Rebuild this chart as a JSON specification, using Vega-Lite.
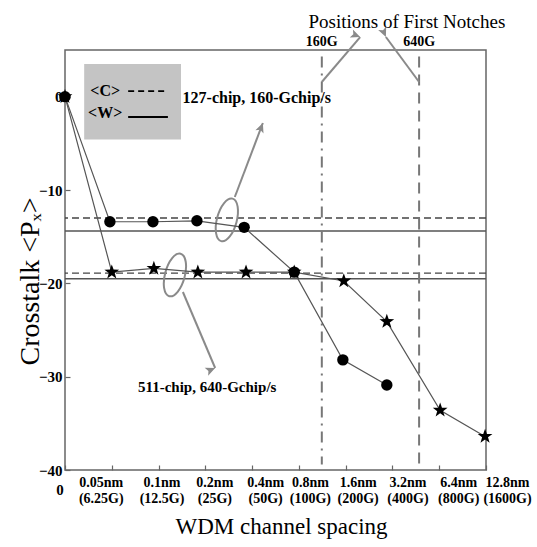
{
  "$schema": "https://vega.github.io/schema/vega-lite/v6.json",
  "width": 421,
  "height": 420,
  "autosize": "none",
  "padding": {"left": 65, "top": 50, "right": 51, "bottom": 77},
  "background": "white",
  "config": {
    "view": {"stroke": "#666666", "strokeWidth": 1.5},
    "font": "Liberation Serif",
    "axis": {"domain": false, "grid": false, "tickColor": "#666666", "tickWidth": 1.2, "labelFont": "Liberation Serif", "labelFontWeight": "bold", "labelColor": "black", "labelOverlap": false, "labelBound": false, "titleFont": "Liberation Serif", "titleFontWeight": "normal", "titleColor": "black"}
  },
  "datasets": {
    "series": [
      {"s": "127-chip", "x": 0, "y": 0},
      {"s": "127-chip", "x": 0.96, "y": -13.4},
      {"s": "127-chip", "x": 1.88, "y": -13.4},
      {"s": "127-chip", "x": 2.82, "y": -13.3},
      {"s": "127-chip", "x": 3.83, "y": -14.0},
      {"s": "127-chip", "x": 4.9, "y": -18.8},
      {"s": "127-chip", "x": 5.94, "y": -28.2},
      {"s": "127-chip", "x": 6.88, "y": -30.9},
      {"s": "511-chip", "x": 0, "y": 0},
      {"s": "511-chip", "x": 1.0, "y": -18.8},
      {"s": "511-chip", "x": 1.9, "y": -18.4},
      {"s": "511-chip", "x": 2.84, "y": -18.8},
      {"s": "511-chip", "x": 3.87, "y": -18.8},
      {"s": "511-chip", "x": 4.9, "y": -18.8},
      {"s": "511-chip", "x": 5.96, "y": -19.75},
      {"s": "511-chip", "x": 6.88, "y": -24.1},
      {"s": "511-chip", "x": 8.02, "y": -33.6},
      {"s": "511-chip", "x": 8.98, "y": -36.4}
    ],
    "levels": [
      {"s": "127-chip", "k": "C", "y": -13.0},
      {"s": "127-chip", "k": "W", "y": -14.4},
      {"s": "511-chip", "k": "C", "y": -18.9},
      {"s": "511-chip", "k": "W", "y": -19.5}
    ],
    "notches": [
      {"label": "160G", "x": 5.49},
      {"label": "640G", "x": 7.57}
    ],
    "arrows": [
      {"id": "a", "x": 3.63, "y": -10.75, "x2": 4.23, "y2": -2.82},
      {"id": "b", "x": 2.52, "y": -20.93, "x2": 3.21, "y2": -29.07},
      {"id": "c", "x": 5.49, "y": 1.57, "x2": 6.31, "y2": 6.39},
      {"id": "d", "x": 7.57, "y": 1.57, "x2": 6.86, "y2": 6.39}
    ],
    "ellipses": [
      {"s": "127-chip", "x": 3.46, "y": -13.2},
      {"s": "511-chip", "x": 2.35, "y": -19.1}
    ],
    "legendbox": [{"x": 0.41, "x2": 2.48, "y": 3.5, "y2": -4.6}],
    "legendkeys": [
      {"k": "C", "label": "<C>", "tx": 0.86, "ty": 0.6, "x": 1.35, "x2": 2.2, "y": 0.6},
      {"k": "W", "label": "<W>", "tx": 0.86, "ty": -1.75, "x": 1.35, "x2": 2.2, "y": -2.18}
    ],
    "notes": [
      {"label": "127-chip, 160-Gchip/s", "x": 4.1, "y": -0.14, "grp": "big"},
      {"label": "511-chip, 640-Gchip/s", "x": 3.04, "y": -31.1, "grp": "small"},
      {"label": "Positions of First Notches", "x": 7.31, "y": 8.0, "grp": "title"}
    ],
    "zero": [{"label": "0", "x": 0, "y": -40}]
  },
  "layer": [
    {
      "data": {"name": "legendbox"},
      "mark": {"type": "rect", "fill": "#c4c4c4"},
      "encoding": {
        "x": {"field": "x", "type": "quantitative",
          "scale": {"domain": [0, 9], "nice": false, "zero": false},
          "axis": {"values": [0, 1, 2, 3, 4, 5, 6, 7, 8, 9], "tickSize": -5, "labelPadding": 17, "labelFontSize": 14, "labelLineHeight": 16, "labelBaseline": "middle", "labelFlush": false,
            "labelOffset": {"condition": [
              {"test": "datum.value === 1", "value": -11},
              {"test": "datum.value === 2", "value": 3},
              {"test": "datum.value === 3", "value": 9},
              {"test": "datum.value === 4", "value": 13},
              {"test": "datum.value === 5", "value": 11},
              {"test": "datum.value === 6", "value": 12},
              {"test": "datum.value === 7", "value": 15},
              {"test": "datum.value === 8", "value": 19},
              {"test": "datum.value === 9", "value": 21}
            ], "value": 0},
            "labelExpr": "[[''],['0.05nm','(6.25G)'],['0.1nm','(12.5G)'],['0.2nm','(25G)'],['0.4nm','(50G)'],['0.8nm','(100G)'],['1.6nm','(200G)'],['3.2nm','(400G)'],['6.4nm','(800G)'],['12.8nm','(1600G)']][datum.value]",
            "title": "WDM channel spacing", "titleFontSize": 23, "titleX": 216, "titleY": 56, "titleBaseline": "middle"}},
        "x2": {"field": "x2"},
        "y": {"field": "y", "type": "quantitative",
          "scale": {"domain": [-40, 5], "nice": false, "zero": false},
          "axis": {"values": [0, -10, -20, -30, -40], "tickSize": -5, "labelPadding": 8, "labelFontSize": 15,
            "title": "Crosstalk <Pₓ>", "titleFontSize": 28, "titleX": -35, "titleY": 231, "titleAngle": 270, "titleBaseline": "middle", "titleAlign": "center"}},
        "y2": {"field": "y2"}
      }
    },
    {
      "data": {"name": "levels"},
      "transform": [{"filter": "datum.k === 'C'"}],
      "mark": {"type": "rule", "color": "#444444", "strokeWidth": 1.3, "strokeDash": [7, 4]},
      "encoding": {"y": {"field": "y", "type": "quantitative"}}
    },
    {
      "data": {"name": "levels"},
      "transform": [{"filter": "datum.k === 'W'"}],
      "mark": {"type": "rule", "color": "#555555", "strokeWidth": 1.5},
      "encoding": {"y": {"field": "y", "type": "quantitative"}}
    },
    {
      "data": {"name": "notches"},
      "transform": [{"filter": "datum.label === '160G'"}],
      "mark": {"type": "rule", "color": "#777777", "strokeWidth": 2, "strokeDash": [11, 6, 2, 6]},
      "encoding": {
        "x": {"field": "x", "type": "quantitative"},
        "y": {"datum": 4.3, "type": "quantitative"},
        "y2": {"datum": -39.4}
      }
    },
    {
      "data": {"name": "notches"},
      "transform": [{"filter": "datum.label === '640G'"}],
      "mark": {"type": "rule", "color": "#777777", "strokeWidth": 2, "strokeDash": [11, 7]},
      "encoding": {
        "x": {"field": "x", "type": "quantitative"},
        "y": {"datum": 4.3, "type": "quantitative"},
        "y2": {"datum": -39.4}
      }
    },
    {
      "data": {"name": "notches"},
      "mark": {"type": "text", "font": "Liberation Serif", "fontWeight": "bold", "fontSize": 14, "baseline": "middle", "align": "center"},
      "encoding": {
        "x": {"field": "x", "type": "quantitative"},
        "y": {"datum": 5.86, "type": "quantitative"},
        "text": {"field": "label"}
      }
    },
    {
      "data": {"name": "arrows"},
      "mark": {"type": "rule", "color": "#8a8a8a", "strokeWidth": 2},
      "encoding": {
        "x": {"field": "x", "type": "quantitative"},
        "y": {"field": "y", "type": "quantitative"},
        "x2": {"field": "x2"},
        "y2": {"field": "y2"}
      }
    },
    {
      "data": {"name": "arrows"},
      "mark": {"type": "point", "filled": true, "color": "#8a8a8a", "opacity": 1, "size": 300, "shape": "M0,0L0.5,1.1L0,0.85L-0.5,1.1Z"},
      "encoding": {
        "x": {"field": "x2", "type": "quantitative"},
        "y": {"field": "y2", "type": "quantitative"},
        "angle": {"field": "id", "type": "nominal", "scale": {"domain": ["a", "b", "c", "d"], "range": [21, 157, 40, 324]}, "legend": null}
      }
    },
    {
      "data": {"name": "ellipses"},
      "mark": {"type": "point", "filled": false, "stroke": "#8a8a8a", "strokeWidth": 2, "opacity": 1, "size": 1936, "angle": 15, "shape": "M0,-1A0.45,1 0 1,1 0,1A0.45,1 0 1,1 0,-1Z"},
      "encoding": {
        "x": {"field": "x", "type": "quantitative"},
        "y": {"field": "y", "type": "quantitative"}
      }
    },
    {
      "data": {"name": "series"},
      "mark": {"type": "line", "color": "#555555", "strokeWidth": 1.2},
      "encoding": {
        "x": {"field": "x", "type": "quantitative"},
        "y": {"field": "y", "type": "quantitative"},
        "detail": {"field": "s", "type": "nominal"},
        "order": {"field": "x", "type": "quantitative"}
      }
    },
    {
      "data": {"name": "series"},
      "mark": {"type": "point", "filled": true, "color": "black", "opacity": 1},
      "encoding": {
        "x": {"field": "x", "type": "quantitative"},
        "y": {"field": "y", "type": "quantitative"},
        "shape": {"field": "s", "type": "nominal", "scale": {"domain": ["511-chip", "127-chip"], "range": ["M0,-1L0.235,-0.324L0.951,-0.309L0.38,0.124L0.588,0.809L0,0.4L-0.588,0.809L-0.38,0.124L-0.951,-0.309L-0.235,-0.324Z", "circle"]}, "legend": null},
        "size": {"field": "s", "type": "nominal", "scale": {"domain": ["511-chip", "127-chip"], "range": [240, 130]}, "legend": null}
      }
    },
    {
      "data": {"name": "legendkeys"},
      "mark": {"type": "text", "font": "Liberation Serif", "fontWeight": "bold", "fontSize": 16, "align": "center", "baseline": "middle"},
      "encoding": {
        "x": {"field": "tx", "type": "quantitative"},
        "y": {"field": "ty", "type": "quantitative"},
        "text": {"field": "label"}
      }
    },
    {
      "data": {"name": "legendkeys"},
      "transform": [{"filter": "datum.k === 'C'"}],
      "mark": {"type": "rule", "color": "black", "strokeWidth": 1.8, "strokeDash": [6, 4]},
      "encoding": {
        "x": {"field": "x", "type": "quantitative"},
        "x2": {"field": "x2"},
        "y": {"field": "y", "type": "quantitative"}
      }
    },
    {
      "data": {"name": "legendkeys"},
      "transform": [{"filter": "datum.k === 'W'"}],
      "mark": {"type": "rule", "color": "black", "strokeWidth": 2.2},
      "encoding": {
        "x": {"field": "x", "type": "quantitative"},
        "x2": {"field": "x2"},
        "y": {"field": "y", "type": "quantitative"}
      }
    },
    {
      "data": {"name": "notes"},
      "transform": [{"filter": "datum.grp === 'big'"}],
      "mark": {"type": "text", "font": "Liberation Serif", "fontWeight": "bold", "fontSize": 16, "align": "center", "baseline": "middle"},
      "encoding": {
        "x": {"field": "x", "type": "quantitative"},
        "y": {"field": "y", "type": "quantitative"},
        "text": {"field": "label"}
      }
    },
    {
      "data": {"name": "notes"},
      "transform": [{"filter": "datum.grp === 'small'"}],
      "mark": {"type": "text", "font": "Liberation Serif", "fontWeight": "bold", "fontSize": 15, "align": "center", "baseline": "middle"},
      "encoding": {
        "x": {"field": "x", "type": "quantitative"},
        "y": {"field": "y", "type": "quantitative"},
        "text": {"field": "label"}
      }
    },
    {
      "data": {"name": "notes"},
      "transform": [{"filter": "datum.grp === 'title'"}],
      "mark": {"type": "text", "font": "Liberation Serif", "fontWeight": "normal", "fontSize": 19, "align": "center", "baseline": "middle"},
      "encoding": {
        "x": {"field": "x", "type": "quantitative"},
        "y": {"field": "y", "type": "quantitative"},
        "text": {"field": "label"}
      }
    },
    {
      "data": {"name": "zero"},
      "mark": {"type": "text", "font": "Liberation Serif", "fontWeight": "bold", "fontSize": 15, "align": "center", "baseline": "middle", "dx": -5, "dy": 20},
      "encoding": {
        "x": {"field": "x", "type": "quantitative"},
        "y": {"field": "y", "type": "quantitative"},
        "text": {"field": "label"}
      }
    }
  ]
}
